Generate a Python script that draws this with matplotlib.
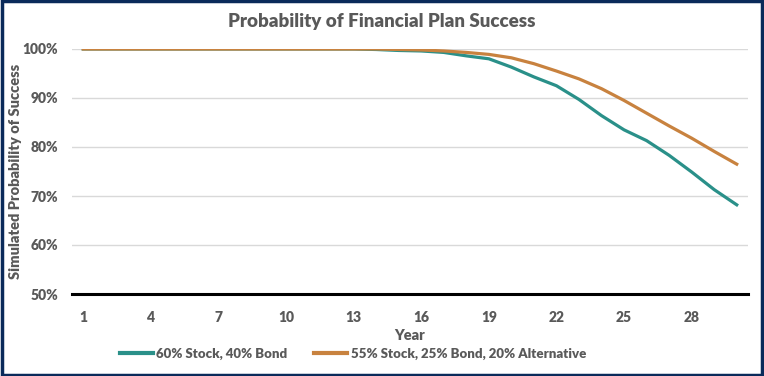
import numpy as np
import matplotlib.pyplot as plt
import matplotlib
from matplotlib.patches import Rectangle
from matplotlib.ticker import FuncFormatter

matplotlib.rc('font', family=['Lato', 'DejaVu Sans'])

years = list(range(1, 31))

stock_bond = [100, 100, 100, 100, 100, 100, 100, 100, 100, 100,
              100, 100, 100, 99.9, 99.7, 99.6, 99.3, 98.6, 98.0, 96.3,
              94.3, 92.5, 89.7, 86.4, 83.5, 81.3, 78.3, 74.9, 71.3, 68.2]

stock_bond_alt = [100, 100, 100, 100, 100, 100, 100, 100, 100, 100,
                  100, 100, 100, 100, 99.9, 99.8, 99.6, 99.3, 98.9, 98.2,
                  97.0, 95.5, 93.9, 91.9, 89.5, 86.9, 84.3, 81.8, 79.1, 76.5]

labels = ['60% Stock, 40% Bond', '55% Stock, 25% Bond, 20% Alternative']
colors = ['#2A9089', '#C8823F']
grey = '#595959'

fig = plt.figure(figsize=(7.64, 3.76), dpi=100)
ax = fig.add_axes([72/764, 82/376, 676/764, 245/376])

ax.plot(years, stock_bond, color=colors[0], lw=2.3, label=labels[0])
ax.plot(years, stock_bond_alt, color=colors[1], lw=2.3, label=labels[1])

ax.set_xlim(0.5, 30.5)
ax.set_ylim(50, 100)
ax.set_xticks(years[::3])
ax.set_yticks(np.arange(50, 101, 10))
ax.yaxis.set_major_formatter(FuncFormatter(lambda v, p: '%d%%' % v))
ax.grid(axis='y', color='#D9D9D9', lw=1)
ax.set_axisbelow(True)
for s in ['top', 'right', 'left']:
    ax.spines[s].set_visible(False)
ax.spines['bottom'].set_color('black')
ax.spines['bottom'].set_linewidth(2.2)
ax.spines['bottom'].set_zorder(5)
ax.tick_params(length=0, labelsize=10, labelcolor=grey)
ax.tick_params(axis='x', pad=12)
ax.tick_params(axis='y', pad=10)
for t in ax.get_xticklabels() + ax.get_yticklabels():
    t.set_fontweight('heavy')

ax.set_xlabel('Year', fontsize=10.5, fontweight='heavy', color=grey, va='center')
ax.xaxis.set_label_coords(0.5, -(335 - 294) / 245)
ax.set_ylabel('Simulated Probability of Success', fontsize=10.5,
              fontweight='heavy', color=grey, va='center')
ax.yaxis.set_label_coords(-(72 - 16) / 676, 0.5)
fig.suptitle('Probability of Financial Plan Success', y=1 - 22/376, va='center',
             fontsize=13.5, fontweight='heavy', color=grey)

leg = fig.legend(loc='center', bbox_to_anchor=(353/764, 1 - 354/376), ncol=2,
                 frameon=False, fontsize=9.5, handlelength=2.5, columnspacing=2.0,
                 handletextpad=0.3)
for t in leg.get_texts():
    t.set_color(grey)
    t.set_fontweight('heavy')
for h in leg.get_lines():
    h.set_linewidth(3)

fig.patches.append(Rectangle((0.002, 0.003), 0.995, 0.994, transform=fig.transFigure,
                             fill=False, edgecolor='#0A2A5A', lw=2.5))

plt.savefig('out.png', dpi=100)
